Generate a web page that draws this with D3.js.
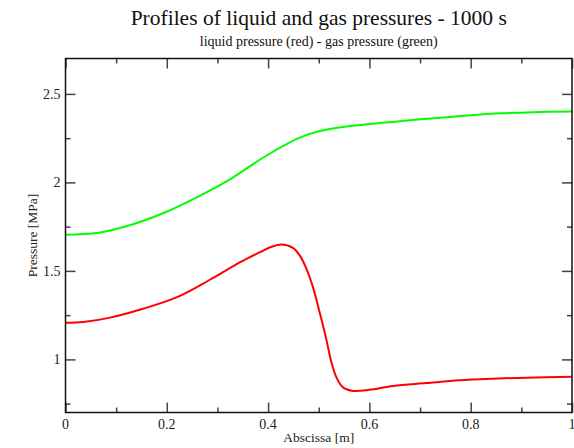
<!DOCTYPE html>
<html>
<head>
<meta charset="utf-8">
<script src="https://cdn.jsdelivr.net/npm/d3@7"></script>
<style>
  html, body { margin: 0; padding: 0; background: #fff; }
  svg { display: block; font-family: "Liberation Serif", "Times New Roman", serif; }
</style>
</head>
<body>
<svg id="chart" width="574" height="448"></svg>
<script>
// Abscissa positions [m] and pressures [MPa] along the profile
const liquidX = [0, 0.035, 0.088, 0.153, 0.219, 0.285, 0.344, 0.384, 0.403, 0.426, 0.449, 0.463, 0.476, 0.489, 0.502, 0.515, 0.525, 0.535, 0.548, 0.568, 0.60, 0.647, 0.712, 0.778, 0.844, 0.91, 1.0];
const liquidP = [1.207, 1.211, 1.236, 1.286, 1.35, 1.45, 1.548, 1.606, 1.632, 1.649, 1.63, 1.585, 1.51, 1.404, 1.263, 1.113, 0.983, 0.898, 0.842, 0.822, 0.828, 0.85, 0.866, 0.882, 0.891, 0.897, 0.902];

const gasX = [0, 0.065, 0.13, 0.196, 0.262, 0.328, 0.393, 0.459, 0.502, 0.561, 0.66, 0.759, 0.857, 0.923, 1.0];
const gasP = [1.704, 1.716, 1.761, 1.83, 1.92, 2.023, 2.145, 2.249, 2.29, 2.318, 2.346, 2.37, 2.39, 2.397, 2.40];

const xMajorTicks = [0, 0.2, 0.4, 0.6, 0.8, 1];
const xTickLabels = ["0", "0.2", "0.4", "0.6", "0.8", "1"];
const xMinorTicks = [0.1, 0.3, 0.5, 0.7, 0.9];
const yMajorTicks = [1, 1.5, 2, 2.5];
const yTickLabels = ["1", "1.5", "2", "2.5"];
const yMinorTicks = [0.75, 1.25, 1.75, 2.25];

const titleText = "Profiles of liquid and gas pressures - 1000 s";
const subtitleText = "liquid pressure (red) - gas pressure (green)";
const xLabel = "Abscissa [m]";
const yLabel = "Pressure [MPa]";

const svg = d3.select("#chart");
const plot = { left: 65.5, right: 572, top: 58.5, bottom: 412.5 };

const x = d3.scaleLinear().domain([0, 1]).range([plot.left, plot.right]);
const y = d3.scaleLinear().domain([0.7, 2.7]).range([plot.bottom, plot.top]);

// Curves
const line = d3.line().x(d => x(d[0])).y(d => y(d[1])).curve(d3.curveCatmullRom.alpha(0.5));

svg.append("path")
  .datum(gasX.map((v, i) => [v, gasP[i]]))
  .attr("d", line).attr("fill", "none")
  .attr("stroke", "#00ff00").attr("stroke-width", 2);

svg.append("path")
  .datum(liquidX.map((v, i) => [v, liquidP[i]]))
  .attr("d", line).attr("fill", "none")
  .attr("stroke", "#ff0000").attr("stroke-width", 2);

// Axes with inward ticks on all four sides
const tickColor = "#444";
function addAxis(axis, transform) {
  const g = svg.append("g").attr("transform", transform).call(axis);
  g.select(".domain").remove();
  g.selectAll(".tick line").attr("stroke", tickColor).attr("stroke-width", 1.5);
  return g;
}

// bottom
addAxis(d3.axisTop(x).tickValues(xMajorTicks).tickSize(10).tickFormat(""), `translate(0,${plot.bottom})`);
addAxis(d3.axisTop(x).tickValues(xMinorTicks).tickSize(5).tickFormat(""), `translate(0,${plot.bottom})`);
// top
addAxis(d3.axisBottom(x).tickValues(xMajorTicks).tickSize(10).tickFormat(""), `translate(0,${plot.top})`);
addAxis(d3.axisBottom(x).tickValues(xMinorTicks).tickSize(5).tickFormat(""), `translate(0,${plot.top})`);
// left
addAxis(d3.axisRight(y).tickValues(yMajorTicks).tickSize(10).tickFormat(""), `translate(${plot.left},0)`);
addAxis(d3.axisRight(y).tickValues(yMinorTicks).tickSize(5).tickFormat(""), `translate(${plot.left},0)`);
// right
addAxis(d3.axisLeft(y).tickValues(yMajorTicks).tickSize(10).tickFormat(""), `translate(${plot.right},0)`);
addAxis(d3.axisLeft(y).tickValues(yMinorTicks).tickSize(5).tickFormat(""), `translate(${plot.right},0)`);

// Tick labels
svg.append("g").selectAll("text").data(xMajorTicks).join("text")
  .attr("x", d => x(d)).attr("y", plot.bottom + 16)
  .attr("text-anchor", "middle").attr("font-size", 14).attr("fill", "#222")
  .text((d, i) => xTickLabels[i]);

svg.append("g").selectAll("text").data(yMajorTicks).join("text")
  .attr("x", plot.left - 5).attr("y", d => y(d) + 5)
  .attr("text-anchor", "end").attr("font-size", 14).attr("fill", "#222")
  .text((d, i) => yTickLabels[i]);

// Frame
svg.append("rect")
  .attr("x", plot.left).attr("y", plot.top)
  .attr("width", plot.right - plot.left).attr("height", plot.bottom - plot.top)
  .attr("fill", "none").attr("stroke", "#111").attr("stroke-width", 1.5);

// Titles and axis labels
const cx = (plot.left + plot.right) / 2;
svg.append("text").attr("x", cx).attr("y", 25).attr("text-anchor", "middle")
  .attr("font-size", 21.5).attr("fill", "#111").text(titleText);
svg.append("text").attr("x", cx).attr("y", 46).attr("text-anchor", "middle")
  .attr("font-size", 14).attr("fill", "#111").text(subtitleText);
svg.append("text").attr("x", cx).attr("y", 442).attr("text-anchor", "middle")
  .attr("font-size", 13.5).attr("fill", "#222").text(xLabel);
svg.append("text")
  .attr("transform", `translate(37,${(plot.top + plot.bottom) / 2}) rotate(-90)`)
  .attr("text-anchor", "middle").attr("font-size", 13.5).attr("fill", "#222").text(yLabel);
</script>
</body>
</html>
